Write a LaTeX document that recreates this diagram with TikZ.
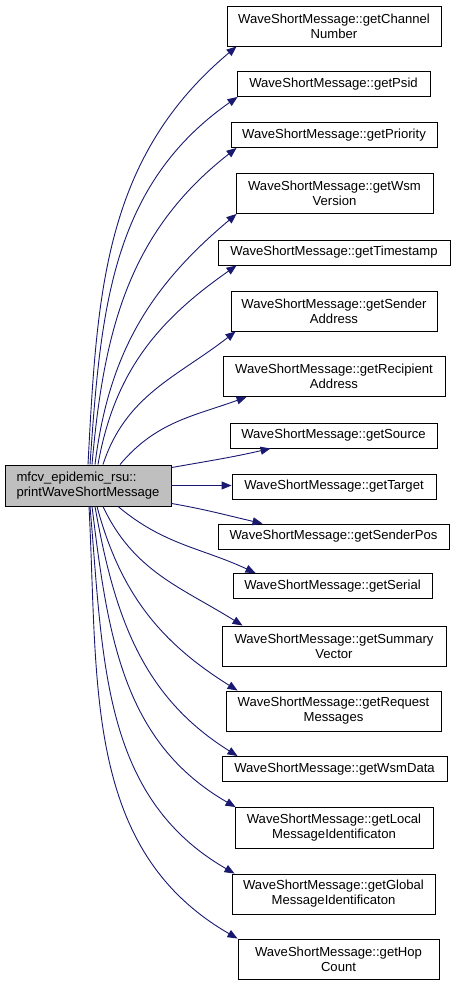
\documentclass[tikz,border=0pt]{standalone}
\usepackage{fontspec}
\setsansfont{Liberation Sans}
\usetikzlibrary{arrows.meta,calc}
\definecolor{Edge}{HTML}{191970}
\definecolor{Root}{HTML}{BFBFBF}

\begin{document}
\begin{tikzpicture}[
  x=1pt,y=1pt,
  fn/.style={draw=black,line width=0.9pt,fill=white,inner sep=0pt,minimum height=25pt,align=center,font=\sffamily\fontsize{13.1}{15}\selectfont},
  twoline/.style={fn,minimum height=40pt},
  root/.style={fn,fill=Root,minimum height=41pt,align=left},
  arrow/.style={-{Triangle[length=10pt,width=8pt]},line width=0.9pt,draw=Edge}
]
  \useasboundingbox (0,0) rectangle (455,-985);
  \node[root,minimum width=166pt] (main) at (88,-485.5) {mfcv\_epidemic\_rsu::\\printWaveShortMessage};
  % callees, top to bottom
  \node[twoline,minimum width=214pt] (chan) at (334,-26) {WaveShortMessage::getChannel\\Number};
  \node[fn,minimum width=193pt] (psid) at (333.5,-84) {WaveShortMessage::getPsid};
  \node[fn,minimum width=206pt] (prio) at (334,-135) {WaveShortMessage::getPriority};
  \node[twoline,minimum width=197pt] (wsmv) at (334.5,-193.5) {WaveShortMessage::getWsm\\Version};
  \node[fn,minimum width=232pt] (stamp) at (334,-252.5) {WaveShortMessage::getTimestamp};
  \node[twoline,minimum width=206pt] (sndr) at (334,-311) {WaveShortMessage::getSender\\Address};
  \node[twoline,minimum width=222pt] (rcpt) at (334,-376.5) {WaveShortMessage::getRecipient\\Address};
  \node[fn,minimum width=207pt] (src) at (333.5,-435.5) {WaveShortMessage::getSource};
  \node[fn,minimum width=204pt] (tgt) at (334,-486.5) {WaveShortMessage::getTarget};
  \node[fn,minimum width=231pt] (spos) at (333.5,-536.5) {WaveShortMessage::getSenderPos};
  \node[fn,minimum width=199pt] (ser) at (332.5,-586) {WaveShortMessage::getSerial};
  \node[twoline,minimum width=224pt] (summ) at (334,-646) {WaveShortMessage::getSummary\\Vector};
  \node[twoline,minimum width=215pt] (req) at (333.5,-711) {WaveShortMessage::getRequest\\Messages};
  \node[fn,minimum width=225pt] (wdata) at (334.5,-769) {WaveShortMessage::getWsmData};
  \node[twoline,minimum width=198pt,minimum height=41pt] (lmid) at (334,-828) {WaveShortMessage::getLocal\\MessageIdentificaton};
  \node[twoline,minimum width=203pt] (gmid) at (333.5,-894) {WaveShortMessage::getGlobal\\MessageIdentificaton};
  \node[twoline,minimum width=201pt] (hop) at (338.5,-959) {WaveShortMessage::getHop\\Count};
  % calls going up
  \draw[arrow] ($(main.north)+(0,0)$) to[out=87,in=220] ($(chan.south west)+(10,0)$);
  \draw[arrow] ($(main.north)+(2,0)$) to[out=86,in=215] ($(psid.south west)+(1,0)$);
  \draw[arrow] ($(main.north)+(4,0)$) to[out=85,in=218] ($(prio.south west)+(6,0)$);
  \draw[arrow] ($(main.north)+(7,0)$) to[out=83,in=220] ($(wsmv.south west)+(1,0)$);
  \draw[arrow] ($(main.north)+(10,0)$) to[out=80,in=215] ($(stamp.south west)+(19,0)$);
  \draw[arrow] ($(main.north)+(15,0)$) to[out=72,in=218] ($(sndr.south west)+(5,0)$);
  \draw[arrow] ($(main.north)+(32,0)$) to[out=50,in=200] ($(rcpt.south west)+(24,0)$);
  % straight across
  \draw[arrow] ($(main.north east)+(0,-3)$) to[out=10,in=193] ($(src.south west)+(41,0)$);
  \draw[arrow] (main.east) -- (main.east -| tgt.west);
  \draw[arrow] ($(main.south east)+(0,3)$) to[out=-10,in=167] ($(spos.north west)+(45,0)$);
  % calls going down
  \draw[arrow] ($(main.south)+(30,0)$) to[out=-40,in=155] ($(ser.north west)+(23,0)$);
  \draw[arrow] ($(main.south)+(15,0)$) to[out=-65,in=148] ($(summ.north west)+(21,0)$);
  \draw[arrow] ($(main.south)+(9,0)$) to[out=-75,in=148] ($(req.north west)+(12,0)$);
  \draw[arrow] ($(main.south)+(7,0)$) to[out=-80,in=148] ($(wdata.north west)+(16,0)$);
  \draw[arrow] ($(main.south)+(4,0)$) to[out=-83,in=150] ($(lmid.north west)+(1,0)$);
  \draw[arrow] ($(main.south)+(2,0)$) to[out=-85,in=150] ($(gmid.north west)+(3,0)$);
  \draw[arrow] ($(main.south)+(1,0)$) to[out=-87,in=150] ($(hop.north west)+(0,0)$);
\end{tikzpicture}
\end{document}
